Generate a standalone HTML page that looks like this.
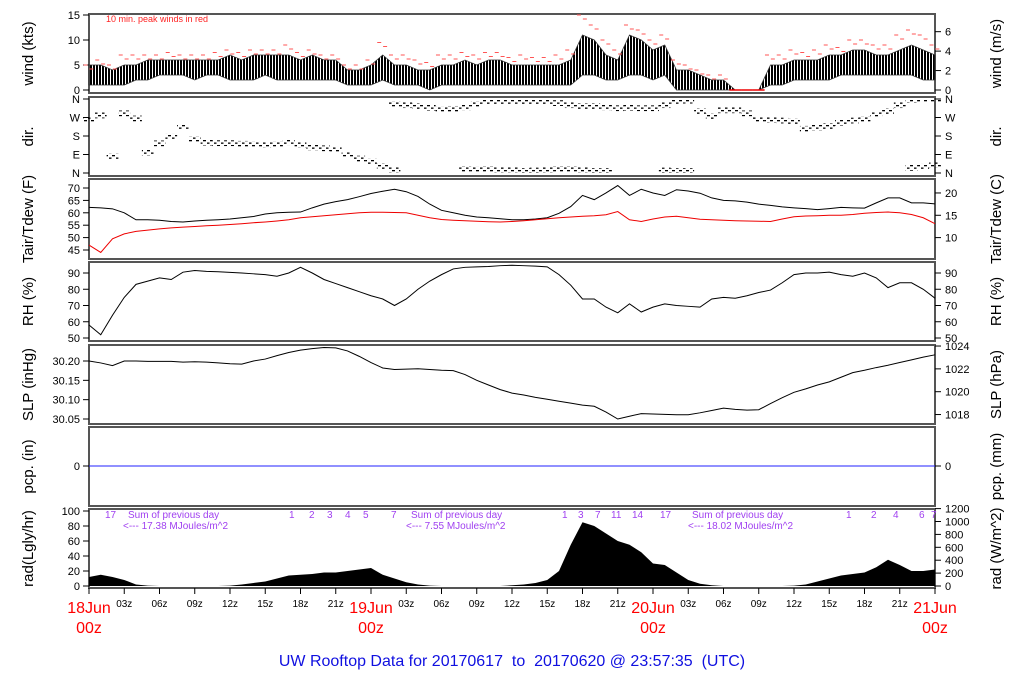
<!DOCTYPE html>
<html><head><meta charset="utf-8"><style>
html,body{margin:0;padding:0;background:#fff;}
svg{display:block;font-family:"Liberation Sans",sans-serif;}
</style></head><body>
<svg id="chart" width="1024" height="700" viewBox="0 0 1024 700" xmlns="http://www.w3.org/2000/svg">
<defs>
<pattern id="dashpat" width="7" height="5" patternUnits="userSpaceOnUse">
<rect x="0" y="0" width="3" height="1.3" fill="#000"/><rect x="4" y="2.5" width="2.5" height="1.3" fill="#000"/>
</pattern>
<pattern id="windpat" width="3" height="5" patternUnits="userSpaceOnUse">
<rect x="0" y="0" width="2" height="5" fill="#000"/>
</pattern>
</defs>
<text x="512" y="666" text-anchor="middle" font-size="16" fill="#1010e0" style="white-space:pre">UW Rooftop Data for 20170617  to  20170620 @ 23:57:35  (UTC)</text>
</svg>
<script>
const hours = Array.from({length:73},(_,i)=>i);
const windLo = [1,1,1,1,2,2,3,3,3,2,3,3,2,2,2,3,2,2,2,2,2,2,1,1,1,2,1,1,1,0,1,1,1,1,1,1,1,1,1,1,1,1,3,3,2,2,3,3,2,3,0,0,0,0,0,0,0,0,1,1,2,2,2,2,3,3,3,3,3,3,3,2,2];
const windHi = [5,5,4,5,5,6,6,6,6,6,6,6,7,6,7,7,7,7,6,7,6,6,4,4,5,7,5,5,4,4,5,5,6,5,6,6,5,5,5,5,5,6,11,10,7,6,11,10,8,9,4,4,3,2,2,0,0,0,5,5,6,6,6,7,7,8,8,7,7,8,9,8,7];
const windGust = [5,6,5,7,7,7,7,7.5,7,7,7,7.5,8,7.5,8,8,8,9,7.5,8,7,7,5,5,6,9.5,7,7,6,5.5,7,7,7.5,7,7.5,7.5,6.5,7,6.5,6.5,7,8,15,13,10,8,13,12,10,11,6,5,4,3,3,0,0,0,7,7,8,7.5,8,9,8.5,10,10,9,9,11,12,11,9];
const dirMain = [260,280,80,290,265,100,144,176,224,165,148,145,145,142,140,137,140,150,137,125,120,115,90,70,55,32,335,330,325,318,310,312,320,335,345,348,350,348,345,345,340,330,325,325,320,315,318,315,315,330,350,352,300,275,305,305,290,260,258,255,250,215,222,228,245,255,262,285,300,330,355,357,358];
const dirAlt = [null,null,null,null,null,null,null,null,null,null,null,null,null,null,null,null,null,null,null,null,null,null,null,null,null,null,15,null,null,null,null,null,20,18,20,15,15,10,12,15,20,20,15,10,10,null,null,null,null,12,10,10,null,null,null,null,null,null,null,null,null,null,null,null,null,null,null,null,null,null,25,30,40];
const tair = [62.2,62,61.6,60,57.2,57.2,57,56.5,56.3,56.7,57,57.2,57.5,58,58.5,59.5,60,60.2,60.3,62,63.5,64.5,65.3,66.5,67.8,68.7,69.5,68.5,66.6,63.5,61,60,59,58.3,58,57.6,57.2,57.2,57.5,58,59.8,62.5,67,65.3,68,71,67,69.5,68,67,69.3,68.8,67.9,66,65,64.8,64.3,63.5,63,62.4,62,61.7,61.3,61.7,62.2,62,61.9,64,66,66,64,64,63.6];
const tdew = [47,44,49.5,51.5,52.5,53,53.5,53.9,54.2,54.5,54.8,55,55.3,55.6,56,56.3,56.7,57.2,58,58.4,58.8,59.2,59.6,60,60.2,60.2,60.1,60,59,58,57.3,57,56.8,56.6,56.4,56.3,56.5,56.8,57.2,57.6,58,58.3,58.6,58.8,59.2,60.5,57.2,56.5,57.5,58.3,58.6,58,57.4,57.2,57,56.8,56.7,56.6,56.5,57.5,58.4,58.7,58.8,59,59,59.3,59.8,60.1,60.3,60,59.3,58,55.6];
const rh = [58,52,64,75,83,85,87,86,90.5,91.5,91,90.8,90.4,90,89.5,89,88,90,93.5,90,86,83.5,81,78.5,76,74,70,74,80,85,89,92.5,93.5,93.8,94,94.5,94.8,94.5,94.2,93.8,89,82.5,74,74,69,65.5,71,66,69,71,70,69.5,69,74,75,74.5,76,78,79.5,84,89,90,90,90.5,89,88,90,87,81,84,84,80,74.5];
const slp = [30.200,30.195,30.188,30.200,30.200,30.199,30.199,30.199,30.197,30.198,30.197,30.195,30.193,30.192,30.200,30.205,30.214,30.222,30.228,30.232,30.235,30.234,30.226,30.212,30.196,30.182,30.178,30.179,30.180,30.178,30.176,30.175,30.165,30.150,30.138,30.126,30.117,30.112,30.106,30.101,30.096,30.091,30.086,30.083,30.068,30.050,30.057,30.064,30.063,30.062,30.061,30.061,30.066,30.072,30.078,30.075,30.073,30.074,30.090,30.105,30.119,30.128,30.138,30.146,30.158,30.170,30.176,30.183,30.189,30.196,30.203,30.210,30.216];
const pcp = hours.map(()=>0);
const rad = [12,15,12,8,2,0.5,0,0,0,0,0,0,0.5,2,4,6,10,14,15,16,18,18,20,22,24,15,10,5,2,0.5,0,0,0,0,0,0,1,2,4,8,20,55,85,80,70,60,55,45,30,28,18,8,3,1,0,0,0,0,0,0,0.5,2,6,10,14,16,18,25,35,28,20,20,22];
const xTickLabels = ["03z","06z","09z","12z","15z","18z","21z"];
const dayLabels = ["18Jun","19Jun","20Jun","21Jun"];
const windTicks=[0,5,10,15], windMsTicks=[0,2,4,6];
const dirTicks=[0,90,180,270,360], dirTickLabels=["N","E","S","W","N"];
const tTicks=[45,50,55,60,65,70], tcTicks=[10,15,20];
const rhTicks=[50,60,70,80,90];
const slpTicks=[30.05,30.10,30.15,30.20], hpaTicks=[1018,1020,1022,1024];
const radTicks=[0,20,40,60,80,100], radWTicks=[0,200,400,600,800,1000,1200];

const svg=document.getElementById('chart');
const NS='http://www.w3.org/2000/svg';
const X0=89,X1=935;
const xs=h=>X0+(X1-X0)*h/72;
function mk(tag,attrs,parent){const e=document.createElementNS(NS,tag);for(const k in attrs)e.setAttribute(k,attrs[k]);(parent||svg).appendChild(e);return e;}
function lin(d0,d1,r0,r1){return v=>r0+(v-d0)*(r1-r0)/(d1-d0);}

const yWind=lin(0,15,90,15);
const yDir=lin(0,360,173,99);
const yT=lin(45,70,250,188);
const yRH=lin(50,90,338,273);
const ySLP=lin(30.05,30.20,419,361);
const yP=v=>466-v*100;
const yRad=lin(0,100,586,511);

const panels=[
 {top:14,bot:93,l:"wind (kts)",r:"wind (m/s)",n:"wind"},
 {top:97,bot:176,l:"dir.",r:"dir.",n:"direction"},
 {top:179,bot:259,l:"Tair/Tdew (F)",r:"Tair/Tdew (C)",n:"temperature"},
 {top:262,bot:341,l:"RH (%)",r:"RH (%)",n:"humidity"},
 {top:345,bot:424,l:"SLP (inHg)",r:"SLP (hPa)",n:"pressure"},
 {top:427,bot:506,l:"pcp. (in)",r:"pcp. (mm)",n:"precip"},
 {top:509,bot:588,l:"rad(Lgly/hr)",r:"rad (W/m^2)",n:"radiation"}];

panels.forEach(p=>{
 const b=mk('rect',{x:X0,y:p.top,width:X1-X0,height:p.bot-p.top,fill:'none',stroke:'#555','stroke-width':2});
 
 
 const cy=(p.top+p.bot)/2;
 const tl=mk('text',{x:0,y:0,transform:`translate(33,${cy}) rotate(-90)`,'text-anchor':'middle','font-size':15,fill:'#000'});
 tl.textContent=p.l;
 
 
 const tr=mk('text',{x:0,y:0,transform:`translate(1001,${cy}) rotate(-90)`,'text-anchor':'middle','font-size':15,fill:'#000'});
 tr.textContent=p.r;
 
 
});

function leftTick(y,label,name){
 mk('line',{x1:X0-6,x2:X0,y1:y,y2:y,stroke:'#000','stroke-width':1});
 const t=mk('text',{x:X0-9,y:y+4,'text-anchor':'end','font-size':11,fill:'#000'});
 t.textContent=label;
 
 
}
function rightTick(y,label,name){
 mk('line',{x1:X1,x2:X1+6,y1:y,y2:y,stroke:'#000','stroke-width':1});
 const t=mk('text',{x:X1+10,y:y+4,'text-anchor':'start','font-size':11,fill:'#000'});
 t.textContent=label;
 
 
}
windTicks.forEach(v=>leftTick(yWind(v),v,'wind-tick-label'));
windMsTicks.forEach(v=>rightTick(yWind(v*1.944),v,'wind-ms-tick-label'));
dirTicks.forEach((v,i)=>{leftTick(yDir(v),dirTickLabels[i],'dir-tick-label');rightTick(yDir(v),dirTickLabels[i],'dir-right-tick-label');});
tTicks.forEach(v=>leftTick(yT(v),v,'temp-f-tick-label'));
tcTicks.forEach(v=>rightTick(yT(v*1.8+32),v,'temp-c-tick-label'));
rhTicks.forEach(v=>{leftTick(yRH(v),v,'rh-tick-label');rightTick(yRH(v),v,'rh-right-tick-label');});
slpTicks.forEach(v=>leftTick(ySLP(v),v.toFixed(2),'slp-tick-label'));
hpaTicks.forEach(v=>rightTick(ySLP(v*0.029530),v,'hpa-tick-label'));
leftTick(yP(0),'0','pcp-tick-label');rightTick(yP(0),'0','pcp-mm-tick-label');
radTicks.forEach(v=>leftTick(yRad(v),v,'rad-tick-label'));
radWTicks.forEach(v=>rightTick(yRad(v/11.63),v,'rad-w-tick-label'));

// wind band
let up=hours.map(h=>`${xs(h)},${yWind(windHi[h])}`), dn=hours.slice().reverse().map(h=>`${xs(h)},${yWind(windLo[h])}`);
const wb=mk('polygon',{points:up.concat(dn).join(' '),fill:'url(#windpat)',stroke:'#333','stroke-width':0.8});


hours.forEach(h=>{
 if(windHi[h]===0){
  const z=mk('line',{x1:xs(h-0.5),x2:xs(h+0.5),y1:yWind(0),y2:yWind(0),stroke:'#e00','stroke-width':1.5});
  
  
 } else {
  [-0.3,0.2].forEach(o=>{
   const g=mk('line',{x1:xs(h+o)-2,x2:xs(h+o)+2,y1:yWind(windGust[h]-(o>0?0.8:0)),y2:yWind(windGust[h]-(o>0?0.8:0)),stroke:'#f55','stroke-width':1});
   
   
  });
 }
});
const wn=mk('text',{x:106,y:22,'font-size':9,fill:'#f22'});wn.textContent='10 min. peak winds in red';



// direction
const SP=14;
hours.forEach(h=>{
 [dirMain[h],dirAlt[h]].forEach(d=>{
  if(d===null) return;
  const lo=Math.max(0,d-SP),hi=Math.min(360,d+SP);
  const r=mk('rect',{x:xs(h-0.5),width:xs(1)-xs(0),y:yDir(hi),height:yDir(lo)-yDir(hi),fill:'url(#dashpat)'});
  
  
 });
});

function line(arr,yf,color,name,w){
 const p=mk('polyline',{points:hours.map(h=>`${xs(h)},${yf(arr[h])}`).join(' '),fill:'none',stroke:color,'stroke-width':w||1});
 
 
}
line(tair,yT,'#000','tair-line');
line(tdew,yT,'#e00','tdew-line');
line(rh,yRH,'#000','rh-line');
line(slp,ySLP,'#000','slp-line');
line(pcp,yP,'#2020ff','pcp-line');

const ra=mk('polygon',{points:[`${xs(0)},${yRad(0)}`].concat(hours.map(h=>`${xs(h)},${yRad(rad[h])}`)).concat([`${xs(72)},${yRad(0)}`]).join(' '),fill:'#000'});



// x axis
for(let h=0;h<=72;h+=3){
 mk('line',{x1:xs(h),x2:xs(h),y1:588,y2:594,stroke:'#000'});
 if(h%24!==0){
  const t=mk('text',{x:xs(h),y:607,'text-anchor':'middle','font-size':10,fill:'#000'});
  t.textContent=xTickLabels[(h%24)/3-1];
  
  
 }
}
dayLabels.forEach((d,i)=>{
 const x=xs(i*24);
 const t=mk('text',{x:x,y:613,'text-anchor':'middle','font-size':16,fill:'#f00'});t.textContent=d;
 
 
 const t2=mk('text',{x:x,y:633,'text-anchor':'middle','font-size':16,fill:'#f00'});t2.textContent='00z';
 
 
});

// purple annotations
const purp=[[105,518,'17'],[128,518,'Sum of previous day'],[123,529,'<--- 17.38 MJoules/m^2'],
[289,518,'1'],[309,518,'2'],[327,518,'3'],[345,518,'4'],[363,518,'5'],[391,518,'7'],
[411,518,'Sum of previous day'],[406,529,'<--- 7.55 MJoules/m^2'],
[562,518,'1'],[578,518,'3'],[595,518,'7'],[611,518,'11'],[632,518,'14'],[660,518,'17'],
[692,518,'Sum of previous day'],[688,529,'<--- 18.02 MJoules/m^2'],
[846,518,'1'],[871,518,'2'],[893,518,'4'],[919,518,'6'],[931,518,'7']];
purp.forEach(a=>{
 const t=mk('text',{x:a[0],y:a[1],'font-size':10,fill:'#a040f0'});t.textContent=a[2];
 
 
});
</script>
</body></html>
